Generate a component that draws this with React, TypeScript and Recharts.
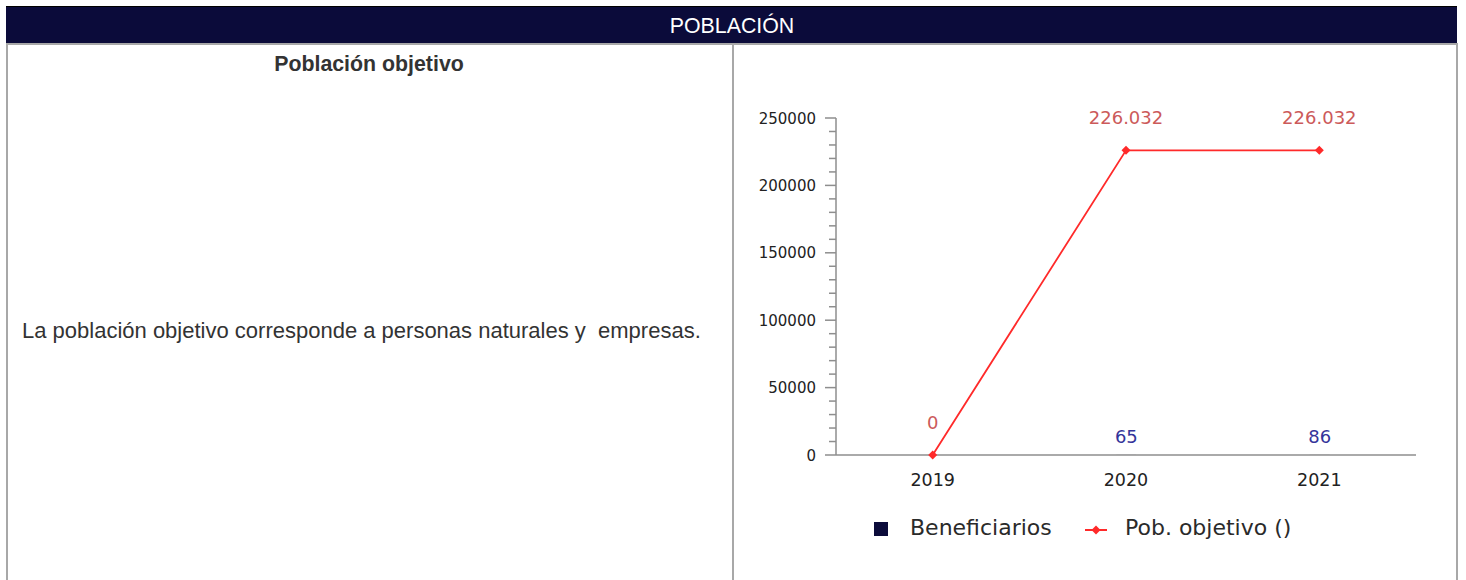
import { Bar, ComposedChart, LabelList, Line, XAxis, YAxis } from 'recharts';

// values
const YEARS = ['2019', '2020', '2021'];
const BENEFICIARIOS: (number | null)[] = [null, 65, 86];
const POB_OBJETIVO = [0, 226032, 226032];
const Y_TICKS = [
  0, 10000, 20000, 30000, 40000, 50000, 60000, 70000, 80000, 90000, 100000, 110000, 120000,
  130000, 140000, 150000, 160000, 170000, 180000, 190000, 200000, 210000, 220000, 230000, 240000,
  250000,
];
const SERIES_NAMES = ['Beneficiarios', 'Pob. objetivo ()'];

const NAVY = '#0b0b3a';
const RED = '#ff2a2a';
const AXIS = '#8e8e8e';
const CHART_FONT = '"DejaVu Sans", Verdana, sans-serif';
const PAGE_FONT = '"Liberation Sans", Arial, sans-serif';
const BORDER = '#a8a8a8';

const rows = YEARS.map((year, i) => ({
  year,
  beneficiarios: BENEFICIARIOS[i],
  pob: POB_OBJETIVO[i],
}));

// 226032 -> "226.032"
const fmt = (v: number) => String(v).replace(/\B(?=(\d{3})+(?!\d))/g, '.');

function YTick({ x, y, payload }: any) {
  const major = payload.value % 50000 === 0;
  return (
    <g>
      <line x1={x - (major ? 11 : 7)} x2={x} y1={y} y2={y} stroke={AXIS} strokeWidth={1.5} />
      {major && (
        <text x={x - 20} y={y} dy={5.5} textAnchor="end" fontSize={15} fill="#222" fontFamily={CHART_FONT}>
          {payload.value}
        </text>
      )}
    </g>
  );
}

function Diamond({ cx, cy }: any) {
  if (cx == null || cy == null) return null;
  const r = 4.5;
  return <polygon points={`${cx},${cy - r} ${cx + r},${cy} ${cx},${cy + r} ${cx - r},${cy}`} fill={RED} />;
}

function labelAnchor(props: any) {
  const vb = props.viewBox ?? {};
  const x = (vb.x ?? props.x) + (vb.width ?? 0) / 2;
  const y = vb.y ?? props.y;
  return { x, y };
}

const renderBarLabel = (props: any) => {
  if (props.value == null) return null;
  const { x, y } = labelAnchor(props);
  return (
    <text x={x} y={y - 12} textAnchor="middle" fontSize={18} fill="#34349a" fontFamily={CHART_FONT}>
      {fmt(props.value)}
    </text>
  );
};

const renderLineLabel = (props: any) => {
  if (props.value == null) return null;
  const { x, y } = labelAnchor(props);
  return (
    <text x={x} y={y - 26} textAnchor="middle" fontSize={18} fill="#cc5a5a" fontFamily={CHART_FONT}>
      {fmt(props.value)}
    </text>
  );
};

function Legend() {
  return (
    <svg width={1466} height={580} style={{ position: 'absolute', left: 0, top: 0, pointerEvents: 'none' }}>
      <rect x={874} y={522} width={14} height={14} fill={NAVY} />
      <text x={910} y={535} fontSize={22} fill="#2a2a2a" fontFamily={CHART_FONT}>
        {SERIES_NAMES[0]}
      </text>
      <line x1={1085} x2={1107} y1={530} y2={530} stroke={RED} strokeWidth={2} />
      <Diamond cx={1096} cy={530} />
      <text x={1125} y={535} fontSize={22} fill="#2a2a2a" fontFamily={CHART_FONT}>
        {SERIES_NAMES[1]}
      </text>
    </svg>
  );
}

export default function App() {
  return (
    <div style={{ position: 'absolute', left: 0, top: 0, width: 1466, height: 580, background: '#fff', overflow: 'hidden' }}>
      {/* header band */}
      <div
        style={{
          position: 'absolute',
          left: 6,
          top: 6,
          width: 1451,
          height: 37,
          background: NAVY,
          borderTop: '1px solid #000',
        }}
      />
      <div
        style={{
          position: 'absolute',
          left: 6,
          top: 14,
          width: 1452,
          textAlign: 'center',
          color: '#fff',
          fontFamily: PAGE_FONT,
          fontSize: 21.33,
          lineHeight: '24px',
        }}
      >
        POBLACIÓN
      </div>
      {/* cell borders */}
      <div style={{ position: 'absolute', left: 6, top: 43, width: 1452, height: 2, background: BORDER }} />
      <div style={{ position: 'absolute', left: 6, top: 43, width: 2, height: 537, background: BORDER }} />
      <div style={{ position: 'absolute', left: 732, top: 43, width: 2, height: 537, background: BORDER }} />
      <div style={{ position: 'absolute', left: 1456, top: 43, width: 2, height: 537, background: BORDER }} />

      {/* left cell */}
      <div
        style={{
          position: 'absolute',
          left: 6,
          top: 52,
          width: 726,
          textAlign: 'center',
          fontWeight: 'bold',
          color: '#333',
          fontFamily: PAGE_FONT,
          fontSize: 21.33,
          lineHeight: '24px',
        }}
      >
        Población objetivo
      </div>
      <div
        style={{
          position: 'absolute',
          left: 22,
          top: 319,
          whiteSpace: 'pre',
          color: '#333',
          fontFamily: PAGE_FONT,
          fontSize: 22,
          lineHeight: '24px',
        }}
      >
        {'La población objetivo corresponde a personas naturales y  empresas.'}
      </div>

      {/* chart */}
      <div style={{ position: 'absolute', left: 740, top: 90 }}>
        <ComposedChart width={720} height={480} data={rows} margin={{ top: 28, right: 44, bottom: 75, left: 0 }}>
          <XAxis
            dataKey="year"
            height={40}
            tickLine={false}
            tickSize={0}
            tickMargin={19}
            axisLine={{ stroke: AXIS, strokeWidth: 1.5 }}
            tick={{ fontSize: 17.5, fill: '#222', fontFamily: CHART_FONT }}
          />
          <YAxis
            domain={[0, 250000]}
            ticks={Y_TICKS}
            interval={0}
            width={96}
            tickSize={0}
            tickMargin={0}
            tickLine={false}
            axisLine={{ stroke: AXIS, strokeWidth: 1.5 }}
            tick={<YTick />}
          />
          <Bar dataKey="beneficiarios" fill={NAVY} barSize={20} isAnimationActive={false}>
            <LabelList dataKey="beneficiarios" content={renderBarLabel} />
          </Bar>
          <Line
            type="linear"
            dataKey="pob"
            stroke={RED}
            strokeWidth={1.8}
            dot={<Diamond />}
            activeDot={false}
            isAnimationActive={false}
          >
            <LabelList dataKey="pob" content={renderLineLabel} />
          </Line>
        </ComposedChart>
      </div>
      <Legend />
    </div>
  );
}
